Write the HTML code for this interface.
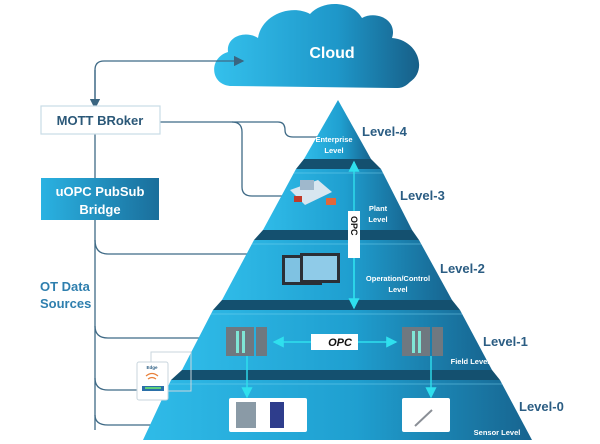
<!DOCTYPE html>
<html><head><meta charset="utf-8"><style>
html,body{margin:0;padding:0;background:#fff;width:600px;height:444px;overflow:hidden}
text{font-family:"Liberation Sans",sans-serif;font-weight:bold}
</style></head><body>
<svg width="600" height="444" viewBox="0 0 600 444" xmlns="http://www.w3.org/2000/svg">
<defs>
<linearGradient id="pg" x1="0" x2="1" y1="0" y2="0">
<stop offset="0" stop-color="#2fbbe8"/><stop offset="0.55" stop-color="#1f9fd0"/><stop offset="1" stop-color="#17648f"/>
</linearGradient>
<linearGradient id="cg" x1="0" x2="1" y1="0" y2="0">
<stop offset="0" stop-color="#34c0ec"/><stop offset="0.6" stop-color="#1e97c9"/><stop offset="1" stop-color="#175f88"/>
</linearGradient>
<linearGradient id="bg" x1="0" x2="1" y1="0" y2="0">
<stop offset="0" stop-color="#2ab2e2"/><stop offset="1" stop-color="#1a6e9b"/>
</linearGradient>
<marker id="ah" markerWidth="8" markerHeight="8" refX="7" refY="4" orient="auto"><path d="M0,0 L8,4 L0,8 z" fill="#3a6580"/></marker>
<marker id="ca" markerWidth="8" markerHeight="8" refX="7" refY="4" orient="auto"><path d="M0,0 L8,4 L0,8 z" fill="#2fe0ee"/></marker>
</defs>
<path d="M232,86 C210,86 208,58 228,52 C226,36 246,30 258,38 C262,14 292,4 310,14 C322,0 352,0 362,18 C376,10 398,20 392,38 C418,40 428,70 410,82 C404,88 400,88 396,88 Z" fill="url(#cg)"/>
<text x="332" y="58" font-size="16" fill="#fff" text-anchor="middle">Cloud</text>
<g fill="none" stroke="#3f6a86" stroke-width="1.3">
<path d="M95,104 V70 Q95,61 104,61 H243" marker-end="url(#ah)"/>
<path d="M95,70 V108" marker-end="url(#ah)"/>
<path d="M95,134 V178"/>
<path d="M95,220 V430"/>
<path d="M160,122 H232 Q242,122 242,132 V187 Q242,196 252,196 H292"/>
<path d="M232,122 H278 Q285,122 285,130 Q285,137 293,137 H318"/>
<path d="M95,240 Q95,254 108,254 H282"/>
<path d="M95,326 Q95,338 108,338 H228"/>
<path d="M95,378 Q95,390 108,390 H400 Q406,390 406,396"/>
<path d="M95,415 Q95,425 108,425 H234"/>
</g>
<rect x="41" y="106" width="119" height="28" fill="#fff" stroke="#c9dbe6" stroke-width="1.2"/>
<text x="100" y="125" font-size="13" fill="#2b5878" text-anchor="middle">MOTT BRoker</text>
<rect x="41" y="178" width="118" height="42" fill="url(#bg)"/>
<text x="100" y="196" font-size="13" fill="#fff" text-anchor="middle">uOPC PubSub</text>
<text x="100" y="214" font-size="13" fill="#fff" text-anchor="middle">Bridge</text>
<text x="40" y="291" font-size="13" fill="#2f7fae">OT Data</text>
<text x="40" y="308" font-size="13" fill="#2f7fae">Sources</text>
<g fill="#14506f">
<polygon points="304,159 371,159 381,169 296,169"/>
<polygon points="263,230 412,230 419,240 254,240"/>
<polygon points="222,300 452,300 460,310 213,310"/>
<polygon points="182,370 492,370 500,380 171,380"/>
</g>
<g fill="url(#pg)">
<polygon points="338,100 371,159 304,159"/>
<polygon points="296,169 381,169 412,230 263,230"/>
<polygon points="254,240 419,240 452,300 222,300"/>
<polygon points="213,310 460,310 492,370 182,370"/>
<polygon points="171,380 500,380 532,440 143,440"/>
</g>
<g stroke="#7fd8f3" stroke-width="0.8" opacity="0.6">
<line x1="294" y1="173" x2="383" y2="173"/><line x1="252" y1="244" x2="421" y2="244"/>
<line x1="211" y1="314" x2="462" y2="314"/><line x1="169" y1="384" x2="502" y2="384"/>
</g>
<g fill="#2b5d83" font-size="13">
<text x="362" y="136">Level-4</text><text x="400" y="200">Level-3</text>
<text x="440" y="273">Level-2</text><text x="483" y="346">Level-1</text>
<text x="519" y="411">Level-0</text>
</g>
<g fill="#fff" font-size="7.5" text-anchor="middle">
<text x="334" y="142">Enterprise</text><text x="334" y="153">Level</text>
<text x="378" y="211">Plant</text><text x="378" y="222">Level</text>
<text x="398" y="281">Operation/Control</text><text x="398" y="292">Level</text>
<text x="470" y="364">Field Level</text><text x="497" y="435">Sensor Level</text>
</g>
<g>
<polygon points="290,190 318,180 332,192 305,205" fill="#d8e6f0"/>
<rect x="300" y="180" width="14" height="10" fill="#9fb8cc"/>
<rect x="326" y="198" width="10" height="7" fill="#e0673a"/>
<rect x="294" y="196" width="8" height="6" fill="#c03a2a"/>
</g>
<rect x="282" y="255" width="40" height="30" fill="#2b2f36"/><rect x="285" y="258" width="34" height="24" fill="#7fc2e2"/>
<rect x="300" y="253" width="40" height="30" fill="#2b2f36"/><rect x="303" y="256" width="34" height="24" fill="#8fcbe8"/>
<g stroke="#2fe0ee" stroke-width="1.4" fill="none">
<line x1="354" y1="300" x2="354" y2="162" marker-end="url(#ca)"/>
<line x1="354" y1="250" x2="354" y2="308" marker-end="url(#ca)"/>
<line x1="312" y1="342" x2="274" y2="342" marker-end="url(#ca)"/>
<line x1="358" y1="342" x2="396" y2="342" marker-end="url(#ca)"/>
<line x1="247" y1="356" x2="247" y2="397" marker-end="url(#ca)"/>
<line x1="431" y1="356" x2="431" y2="397" marker-end="url(#ca)"/>
</g>
<rect x="348" y="211" width="12" height="47" fill="#fff"/>
<text x="354" y="216" font-size="9" fill="#111" transform="rotate(90 354 216)" dy="3">OPC</text>
<rect x="311" y="334" width="47" height="16" fill="#fff"/>
<text x="340" y="346" font-size="11" fill="#111" text-anchor="middle" font-style="italic">OPC</text>
<g fill="#6f7880"><rect x="226" y="327" width="28" height="29"/><rect x="256" y="327" width="11" height="29"/>
<rect x="402" y="327" width="28" height="29"/><rect x="432" y="327" width="11" height="29"/></g>
<g fill="#7fe6d6"><rect x="236" y="331" width="3" height="22"/><rect x="242" y="331" width="3" height="22"/>
<rect x="412" y="331" width="3" height="22"/><rect x="418" y="331" width="3" height="22"/></g>
<rect x="151" y="352" width="40" height="39" fill="none" stroke="#c9d6de" stroke-width="1"/>
<rect x="137" y="362" width="31" height="38" rx="2" fill="#fff" stroke="#c9d6de"/>
<text x="152" y="369" font-size="4.5" fill="#2b5d83" text-anchor="middle">Edge</text>
<path d="M146,376 Q152,371 158,376 M148,379 Q152,376 156,379" stroke="#e8803a" fill="none" stroke-width="1.2"/>
<rect x="142" y="386" width="22" height="5" fill="#2a6fa8"/><rect x="145" y="387" width="16" height="2" fill="#5fd07a"/>
<rect x="229" y="398" width="78" height="34" rx="2" fill="#fff"/>
<rect x="402" y="398" width="48" height="34" rx="2" fill="#fff"/>
<rect x="236" y="402" width="20" height="26" fill="#8a9aa6"/>
<rect x="270" y="402" width="14" height="26" fill="#2e3d8c"/>
<line x1="415" y1="426" x2="432" y2="410" stroke="#8a8f96" stroke-width="2"/>
</svg>
</body></html>
